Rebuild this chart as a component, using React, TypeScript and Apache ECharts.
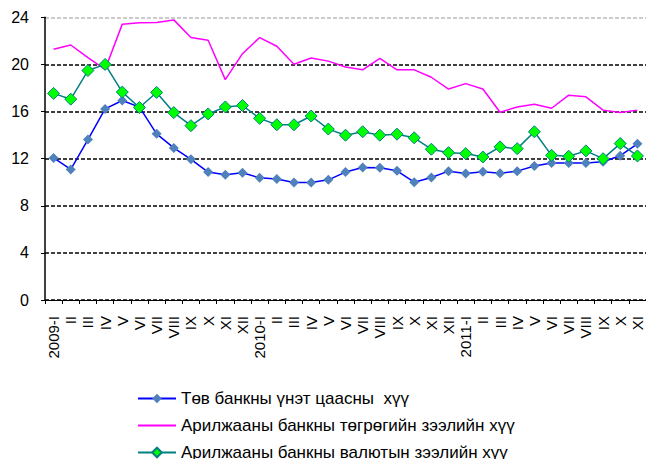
import React, { useEffect, useRef } from "react";
import * as echarts from "echarts";

const categories = [
  "2009-I", "II", "III", "IV", "V", "VI", "VII", "VIII", "IX", "X", "XI", "XII",
  "2010-I", "II", "III", "IV", "V", "VI", "VII", "VIII", "IX", "X", "XI", "XII",
  "2011-I", "II", "III", "IV", "V", "VI", "VII", "VIII", "IX", "X", "XI",
];

const seriesNames = [
  "Төв банкны үнэт цаасны  хүү",
  "Арилжааны банкны төгрөгийн зээлийн хүү",
  "Арилжааны банкны валютын зээлийн хүү",
];

const centralBankBills = [
  12.06, 11.08, 13.62, 16.22, 16.94, 16.37, 14.11, 12.91, 11.94, 10.86, 10.63, 10.8,
  10.37, 10.28, 9.97, 9.97, 10.2, 10.86, 11.25, 11.23, 10.97, 10.0, 10.4, 10.94,
  10.74, 10.88, 10.77, 10.94, 11.37, 11.63, 11.63, 11.63, 11.74, 12.25, 13.26,
];

const tugrikLoanRate = [
  21.28, 21.65, 20.57, 19.57, 23.42, 23.53, 23.55, 23.78, 22.28, 22.05, 18.71, 20.91,
  22.28, 21.54, 20.02, 20.54, 20.28, 19.78, 19.54, 20.51, 19.54, 19.54, 18.91, 17.91,
  18.37, 17.91, 15.94, 16.39, 16.62, 16.28, 17.39, 17.25, 16.12, 15.91, 16.12,
];

const fxLoanRate = [
  17.54, 17.05, 19.48, 20.0, 17.65, 16.34, 17.62, 15.91, 14.8, 15.8, 16.39, 16.51,
  15.42, 14.88, 14.88, 15.62, 14.51, 13.99, 14.28, 13.99, 14.08, 13.77, 12.8, 12.51,
  12.43, 12.14, 13.0, 12.85, 14.28, 12.28, 12.2, 12.66, 12.0, 13.28, 12.23,
];

const FONT = "'Liberation Sans', Arial, sans-serif";

export default function App() {
  const ref = useRef<HTMLDivElement>(null);

  useEffect(() => {
    if (!ref.current) return;
    const chart = echarts.init(ref.current, undefined, { renderer: "svg" });
    chart.setOption({
      animation: false,
      backgroundColor: "#ffffff",
      textStyle: { fontFamily: FONT },
      grid: { left: 45, right: -3, top: 17.3, bottom: 159, containLabel: false },
      legend: {
        orient: "vertical",
        left: 137,
        top: 390,
        height: 120,
        padding: 0,
        itemWidth: 38,
        itemHeight: 12,
        itemGap: 10,
        textStyle: { fontFamily: FONT, fontSize: 17, color: "#000" },
        data: [
          { name: seriesNames[0] },
          { name: seriesNames[1], itemStyle: { color: "transparent", borderWidth: 0, opacity: 0 } },
          { name: seriesNames[2] },
        ],
      },
      xAxis: {
        type: "category",
        data: categories,
        boundaryGap: true,
        axisLine: { show: true, lineStyle: { color: "#000", width: 1 } },
        axisTick: { show: true, alignWithLabel: false, length: 4, lineStyle: { color: "#000" }, interval: 0 },
        axisLabel: {
          interval: 0,
          rotate: 90,
          margin: 16,
          fontFamily: FONT,
          fontSize: 15,
          color: "#000",
        },
        splitLine: { show: false },
      },
      yAxis: {
        type: "value",
        min: 0,
        max: 24,
        interval: 4,
        axisLine: { show: true, lineStyle: { color: "#000", width: 1.5 } },
        axisTick: { show: true, length: 4, lineStyle: { color: "#000" } },
        axisLabel: { margin: 16, fontFamily: FONT, fontSize: 16, color: "#000" },
        splitLine: {
          show: true,
          lineStyle: {
            type: [4, 2],
            width: 1.5,
            color: ["#000", "#000", "#000", "#000", "#000", "#000", "#bbbbbb"],
          },
        },
      },
      series: [
        {
          name: seriesNames[0],
          type: "line",
          data: centralBankBills,
          symbol: "diamond",
          symbolSize: 10,
          lineStyle: { color: "#0000ff", width: 1.5 },
          itemStyle: { color: "#4f81bd" },
          z: 3,
        },
        {
          name: seriesNames[1],
          type: "line",
          data: tugrikLoanRate,
          symbol: "none",
          lineStyle: { color: "#ff00ff", width: 1.5 },
          itemStyle: { color: "#ff00ff" },
          z: 2,
        },
        {
          name: seriesNames[2],
          type: "line",
          data: fxLoanRate,
          symbol: "diamond",
          symbolSize: 12,
          lineStyle: { color: "#008080", width: 1.5 },
          itemStyle: { color: "#00ff00", borderColor: "#008080", borderWidth: 1 },
          z: 4,
        },
      ],
    });
    return () => chart.dispose();
  }, []);

  return (
    <div
      ref={ref}
      style={{ position: "fixed", left: 0, top: 0, width: 646, height: 459 }}
    />
  );
}
